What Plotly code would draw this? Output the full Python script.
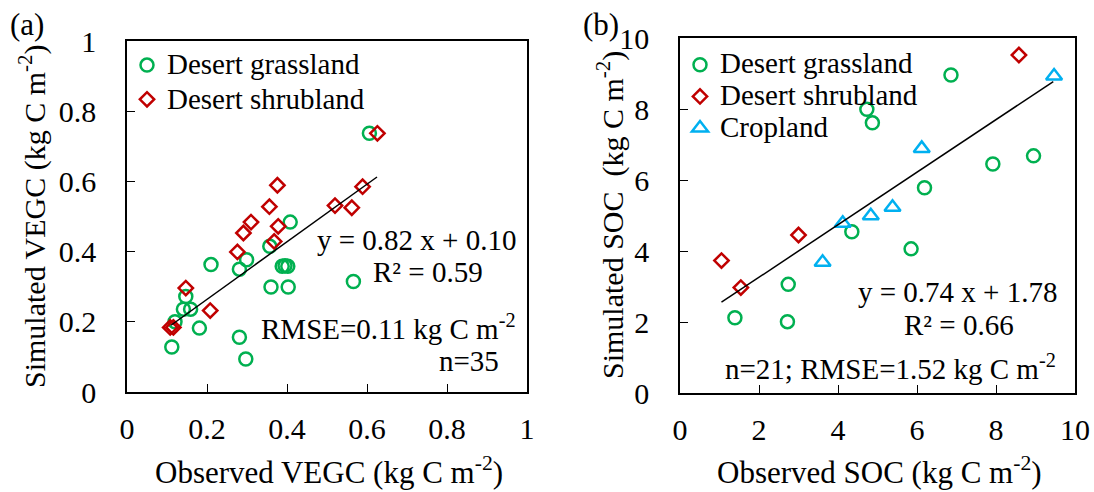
import plotly.graph_objects as go

# ---------------- Panel (a): VEGC ----------------
a_grass_obs = [0.112, 0.120, 0.147, 0.141, 0.159, 0.181, 0.210, 0.281, 0.299, 0.281,
               0.297, 0.357, 0.360, 0.388, 0.395, 0.402, 0.403, 0.408, 0.566, 0.606]
a_grass_sim = [0.128, 0.200, 0.272, 0.236, 0.236, 0.182, 0.363, 0.350, 0.377, 0.156,
               0.094, 0.415, 0.299, 0.358, 0.360, 0.358, 0.299, 0.484, 0.315, 0.737]
a_shrub_obs = [0.108, 0.116, 0.147, 0.208, 0.276, 0.291, 0.310, 0.356, 0.378, 0.368,
               0.520, 0.562, 0.376, 0.589, 0.626]
a_shrub_sim = [0.184, 0.184, 0.296, 0.232, 0.399, 0.453, 0.484, 0.528, 0.472, 0.429,
               0.531, 0.525, 0.589, 0.585, 0.737]
a_fit_x = [0.11, 0.625]
a_slope, a_intercept = 0.82, 0.10
a_eq = "y = 0.82 x + 0.10"
a_r2 = "R² = 0.59"
a_rmse = "RMSE=0.11 kg C m<sup>-2</sup>"
a_n = "n=35"
a_ticks = [0, 0.2, 0.4, 0.6, 0.8, 1]
a_ticklabels = ["0", "0.2", "0.4", "0.6", "0.8", "1"]

# ---------------- Panel (b): SOC ----------------
b_grass_obs = [1.39, 2.72, 2.74, 5.85, 4.35, 6.19, 4.73, 4.87, 6.86, 7.92, 8.95]
b_grass_sim = [2.12, 2.01, 3.06, 4.06, 4.54, 5.78, 7.99, 7.61, 8.96, 6.45, 6.68]
b_shrub_obs = [1.05, 1.54, 3.00, 8.58]
b_shrub_sim = [3.73, 2.97, 4.45, 9.52]
b_crop_obs = [3.61, 4.12, 4.83, 5.38, 6.12, 9.47]
b_crop_sim = [3.68, 4.78, 4.99, 5.23, 6.89, 8.93]
b_fit_x = [1.05, 9.45]
b_slope, b_intercept = 0.74, 1.78
b_eq = "y = 0.74 x + 1.78"
b_r2 = "R² = 0.66"
b_stats = "n=21; RMSE=1.52 kg C m<sup>-2</sup>"
b_ticks = [0, 2, 4, 6, 8, 10]
b_ticklabels = ["0", "2", "4", "6", "8", "10"]

GREEN = "#00B050"
RED = "#C00000"
BLUE = "#00B0F0"
FONT = "Liberation Serif"
W, H = 1094, 492


def lg(name):
    return '<span style="font-size:29px">' + name + '</span>'


fig = go.Figure()


def circ():
    return dict(symbol="circle-open", size=13, color=GREEN, line=dict(width=2.5, color=GREEN))


def diam():
    return dict(symbol="diamond-open", size=11, color=RED, line=dict(width=2.5, color=RED))


def tri():
    return dict(symbol="triangle-up-open", size=14, color=BLUE, line=dict(width=2.5, color=BLUE))


# panel a
fig.add_trace(go.Scatter(x=a_grass_obs, y=a_grass_sim, mode="markers", marker=circ(),
                         name=lg("Desert grassland"), xaxis="x", yaxis="y", legend="legend"))
fig.add_trace(go.Scatter(x=a_shrub_obs, y=a_shrub_sim, mode="markers", marker=diam(),
                         name=lg("Desert shrubland"), xaxis="x", yaxis="y", legend="legend"))
fig.add_trace(go.Scatter(x=a_fit_x, y=[a_slope * v + a_intercept for v in a_fit_x], mode="lines",
                         line=dict(color="black", width=1.5), showlegend=False, xaxis="x", yaxis="y"))

# panel b
fig.add_trace(go.Scatter(x=b_grass_obs, y=b_grass_sim, mode="markers", marker=circ(),
                         name=lg("Desert grassland"), xaxis="x2", yaxis="y2", legend="legend2"))
fig.add_trace(go.Scatter(x=b_shrub_obs, y=b_shrub_sim, mode="markers", marker=diam(),
                         name=lg("Desert shrubland"), xaxis="x2", yaxis="y2", legend="legend2"))
fig.add_trace(go.Scatter(x=b_crop_obs, y=b_crop_sim, mode="markers", marker=tri(),
                         name=lg("Cropland"), xaxis="x2", yaxis="y2", legend="legend2"))
fig.add_trace(go.Scatter(x=b_fit_x, y=[b_slope * v + b_intercept for v in b_fit_x], mode="lines",
                         line=dict(color="black", width=1.5), showlegend=False, xaxis="x2", yaxis="y2"))

axis_common = dict(showgrid=False, zeroline=False, showline=True, linecolor="black", linewidth=1.5,
                   mirror=True, ticks="inside", ticklen=8, tickcolor="black", tickwidth=1.2,
                   automargin=False,
                   tickfont=dict(family=FONT, size=30, color="black"))

fig.update_layout(
    width=W, height=H,
    margin=dict(l=0, r=0, t=0, b=0, pad=0, autoexpand=False),
    paper_bgcolor="white", plot_bgcolor="white",
    font=dict(family=FONT, size=28, color="black"),
    xaxis=dict(domain=[127 / W, 527 / W], range=[0, 1], tickvals=a_ticks, ticktext=a_ticklabels,
               anchor="y", ticklabelstandoff=9, **axis_common),
    yaxis=dict(domain=[1 - 392 / H, 1 - 41 / H], range=[0, 1], tickvals=a_ticks, ticktext=a_ticklabels,
               anchor="x", ticklabelstandoff=23, **axis_common),
    xaxis2=dict(domain=[680 / W, 1075 / W], range=[0, 10], tickvals=b_ticks, ticktext=b_ticklabels,
                anchor="y2", ticklabelstandoff=9, **axis_common),
    yaxis2=dict(domain=[1 - 393 / H, 1 - 38 / H], range=[0, 10], tickvals=b_ticks, ticktext=b_ticklabels,
                anchor="x2", ticklabelstandoff=23, **axis_common),
    legend=dict(x=127 / W, y=1 - 43 / H, xanchor="left", yanchor="top", bgcolor="rgba(0,0,0,0)",
                font=dict(family=FONT, size=24, color="black"), itemwidth=30),
    legend2=dict(x=680 / W, y=1 - 44 / H, xanchor="left", yanchor="top", bgcolor="rgba(0,0,0,0)",
                 font=dict(family=FONT, size=22, color="black"), itemwidth=30),
    showlegend=True,
)


def ann(text, x, y, size=29, angle=0, xanchor="center"):
    fig.add_annotation(text=text, x=x / W, y=1 - y / H, xref="paper", yref="paper",
                       showarrow=False, textangle=angle, xanchor=xanchor, yanchor="middle",
                       font=dict(family=FONT, size=size, color="black"))


# panel labels
ann("(a)", 27, 24, size=31)
ann("(b)", 601, 24, size=31)

# axis titles
ann("Observed VEGC (kg C m<sup>-2</sup>)", 329, 470, size=31)
ann("Simulated VEGC (kg C m<sup>-2</sup>)", 33, 216, size=30, angle=-90)
ann("Observed SOC (kg C m<sup>-2</sup>)", 879, 470, size=31)
ann("Simulated SOC\u00a0 (kg C m<sup>-2</sup>)", 610, 215, size=30, angle=-90)

# stats text panel a
ann(a_eq, 416, 240)
ann(a_r2, 428, 272)
ann(a_rmse, 388, 327)
ann(a_n, 469, 361)

# stats text panel b
ann(b_eq, 957, 292)
ann(b_r2, 959, 325)
ann(b_stats, 890, 367)

fig.write_html("out.html", config={"displayModeBar": False},
               post_script="document.body.style.margin='0';document.body.style.overflow='hidden';")
